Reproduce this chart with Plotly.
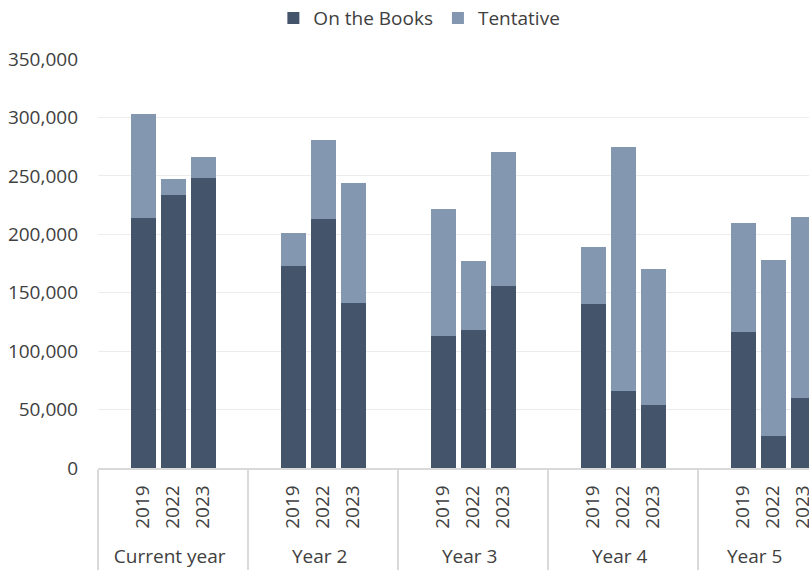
import plotly.graph_objects as go

groups = ["Current year", "Year 2", "Year 3", "Year 4", "Year 5"]
years = ["2019", "2022", "2023"]
on_the_books = [
    [214000, 234000, 248000],
    [173000, 213000, 141000],
    [113000, 118000, 156000],
    [140000, 66000, 54000],
    [116000, 27000, 60000],
]
tentative = [
    [89000, 13000, 18000],
    [28000, 68000, 103000],
    [109000, 59000, 114000],
    [49000, 209000, 116000],
    [94000, 151000, 155000],
]

# invisible padding slots around each group (non-breaking spaces)
pad_before = "\u00a0" * 9
pad_after = "\u00a0" * 10

outer, inner, otb_y, ten_y = [], [], [], []
for g, grp in enumerate(groups):
    labels = [pad_before] + years + [pad_after]
    vals_o = [None] + on_the_books[g] + [None]
    vals_t = [None] + tentative[g] + [None]
    outer += [grp] * len(labels)
    inner += labels
    otb_y += vals_o
    ten_y += vals_t

font_family = "Open Sans"
text_color = "#404040"
fs = 19

fig = go.Figure()
fig.add_trace(go.Bar(x=[outer, inner], y=otb_y, name="On the Books",
                     marker=dict(color="#44546a", line=dict(width=0))))
fig.add_trace(go.Bar(x=[outer, inner], y=ten_y, name="Tentative",
                     marker=dict(color="#8497b0", line=dict(width=0))))

fig.update_layout(
    width=809, height=570,
    barmode="stack", bargap=1/6,
    paper_bgcolor="white", plot_bgcolor="white",
    margin=dict(l=98, r=0, t=59, b=102, autoexpand=False),
    font=dict(family=font_family, size=fs, color=text_color),
    legend=dict(orientation="h", x=0.452, xanchor="center", y=1.1, yanchor="middle",
                font=dict(size=fs, color=text_color), itemwidth=30,
                traceorder="normal"),
    xaxis=dict(type="multicategory", range=[-0.5, 23.2], tickangle=-90,
               showline=True, linecolor="#d9d9d9", linewidth=1.5,
               showdividers=True, dividercolor="#d9d9d9", dividerwidth=1.5,
               ticks="", showgrid=False, automargin=False,
               ticklabelstandoff=8,
               tickfont=dict(size=fs, color=text_color)),
    yaxis=dict(range=[0, 350000], dtick=50000, tickformat=",",
               showgrid=True, gridcolor="#ececec", gridwidth=1,
               zeroline=False, showline=False, ticks="",
               ticklabelstandoff=19, automargin=False,
               tickfont=dict(size=fs, color=text_color)),
)

fig.write_html("out.html")
